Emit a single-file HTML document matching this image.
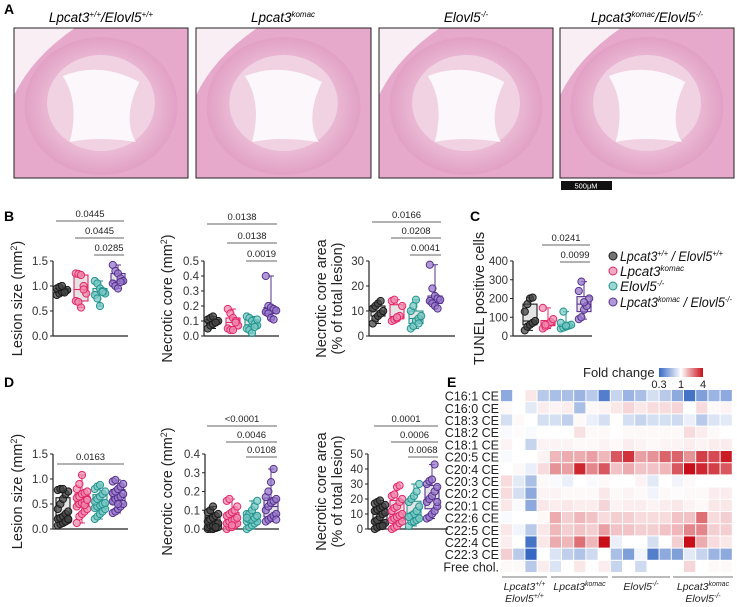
<!DOCTYPE html>
<html><head><meta charset="utf-8"><style>
html,body{margin:0;padding:0;background:#fff;}
svg{display:block;font-family:"Liberation Sans",Arial,sans-serif;}
</style></head><body>
<svg id="fig" width="737" height="607" viewBox="0 0 737 607" xmlns="http://www.w3.org/2000/svg">
<defs>
<radialGradient id="tis" cx="50%" cy="50%" r="60%"><stop offset="0" stop-color="#f6e6ee"/><stop offset="0.6" stop-color="#e9b6d2"/><stop offset="1" stop-color="#dc90bb"/></radialGradient>
</defs>
<g>
<text x="4" y="14" font-size="14" font-weight="bold">A</text>
<text x="101" y="22" font-size="13.5" font-style="italic" text-anchor="middle">Lpcat3<tspan font-size="8" dy="-5">+/+</tspan><tspan dy="5">/Elovl5</tspan><tspan font-size="8" dy="-5">+/+</tspan></text>
<text x="283" y="22" font-size="13.5" font-style="italic" text-anchor="middle">Lpcat3<tspan font-size="8" dy="-5">komac</tspan></text>
<text x="466" y="22" font-size="13.5" font-style="italic" text-anchor="middle">Elovl5<tspan font-size="8" dy="-5">-/-</tspan></text>
<text x="647" y="22" font-size="13.5" font-style="italic" text-anchor="middle">Lpcat3<tspan font-size="8" dy="-5">komac</tspan><tspan dy="5">/Elovl5</tspan><tspan font-size="8" dy="-5">-/-</tspan></text>
<g id="imgs"></g>
<rect x="561" y="181" width="51" height="9" fill="#111"/>
<text x="586" y="188.5" font-size="7.5" fill="#fff" text-anchor="middle">500μM</text>
</g>
<text x="4" y="221" font-size="14" font-weight="bold">B</text>
<text x="470" y="221" font-size="14" font-weight="bold">C</text>
<text x="4" y="387" font-size="14" font-weight="bold">D</text>
<text x="447" y="387" font-size="14" font-weight="bold">E</text>
<g id="plots"></g>
<g id="legend"></g>
<g id="heat"></g>
</svg>
<script>
// ---------- data ----------
const groupNames = ["WT", "Lpcat3komac", "Elovl5-/-", "DKO"];
const b1Black=[0.82,0.85,0.88,0.9,0.92,0.95,0.98,1.0,0.87];
const b1Pink=[1.25,1.24,1.22,1.0,0.85,0.7,0.68,0.57,0.93];
const b1Teal=[1.1,1.05,0.95,0.9,0.85,0.82,0.75,0.6,0.88];
const b1Purple=[1.42,1.3,1.25,1.15,1.1,1.05,1.0,0.95,1.08];
const b2Black=[0.05,0.07,0.08,0.09,0.1,0.11,0.12,0.13,0.09];
const b2Pink=[0.18,0.15,0.12,0.1,0.07,0.05,0.04,0.04,0.09];
const b2Teal=[0.13,0.12,0.1,0.08,0.07,0.05,0.04,0.02,0.06,0.11];
const b2Purple=[0.4,0.2,0.19,0.18,0.17,0.16,0.15,0.12,0.11];
const b3Black=[5,7,8,9,10,11,12,13,14];
const b3Pink=[6,6.5,7,8,12,14,14.5,7.5];
const b3Teal=[3,4,6,7,8,10,12,14.5,5];
const b3Purple=[28.5,19,16,15,14.5,14,13,12,11];
const cBlack=[30,50,60,70,80,130,170,200,205];
const cPink=[40,50,60,75,90,150,60];
const cTeal=[40,45,50,55,60,70,130,55];
const cPurple=[90,100,140,160,200,240,290,180];
const d1Black=[0.07,0.1,0.12,0.15,0.18,0.2,0.22,0.25,0.3,0.35,0.4,0.5,0.6,0.7,0.75,0.78,0.8,0.8,0.15,0.2];
const d1Pink=[0.12,0.25,0.3,0.35,0.4,0.45,0.5,0.52,0.55,0.6,0.62,0.65,0.7,0.72,0.75,0.8,0.9,1.08,0.48,0.58];
const d1Teal=[0.2,0.25,0.3,0.35,0.4,0.42,0.45,0.48,0.5,0.52,0.55,0.6,0.65,0.7,0.75,0.8,0.85,0.88];
const d1Purple=[0.32,0.35,0.4,0.45,0.5,0.55,0.6,0.62,0.65,0.7,0.72,0.75,0.8,0.85,0.9,0.95,0.98,0.5];
const d2Black=[0,0,0,0.005,0.01,0.01,0.02,0.02,0.03,0.03,0.04,0.05,0.06,0.07,0.08,0.09,0.1,0.12,0.01];
const d2Pink=[0,0.01,0.01,0.02,0.03,0.03,0.04,0.05,0.05,0.06,0.07,0.08,0.09,0.1,0.12,0.15,0.16,0.02];
const d2Teal=[0,0.01,0.02,0.03,0.04,0.04,0.05,0.05,0.06,0.07,0.08,0.08,0.1,0.12,0.15,0.06];
const d2Purple=[0.04,0.05,0.06,0.07,0.08,0.1,0.12,0.14,0.15,0.16,0.17,0.2,0.25,0.32,0.05];
const d3Black=[0,1,2,3,4,5,6,8,10,11,12,13,14,15,16,17,18,19,2];
const d3Pink=[0,1,2,4,5,6,7,8,9,10,12,14,15,18,20,22,23,28,29];
const d3Teal=[2,5,5,6,7,8,9,10,12,15,18,20,22,25,30,8];
const d3Purple=[7,8,10,12,15,18,20,22,25,28,30,32,33,43,18];
const b1Ticks=["0.0","0.5","1.0","1.5"], b2Ticks=["0.0","0.1","0.2","0.3","0.4","0.5"], b3Ticks=["0","10","20","30"];
const cTicks=["0","100","200","300","400"], d1Ticks=["0.0","0.5","1.0","1.5"], d2Ticks=["0.0","0.1","0.2","0.3","0.4"], d3Ticks=["0","10","20","30","40","50"];
const b1Sig=["0.0445","0.0445","0.0285"], b2Sig=["0.0138","0.0138","0.0019"], b3Sig=["0.0166","0.0208","0.0041"];
const cSig=["0.0241","0.0099"], d1Sig=["0.0163"], d2Sig=["<0.0001","0.0046","0.0108"], d3Sig=["0.0001","0.0006","0.0068"];
const heatRows=["C16:1 CE","C16:0 CE","C18:3 CE","C18:2 CE","C18:1 CE","C20:5 CE","C20:4 CE","C20:3 CE","C20:2 CE","C20:1 CE","C22:6 CE","C22:5 CE","C22:4 CE","C22:3 CE","Free chol."];
const hC161=[-0.8,0,0.2,-0.5,-0.6,-0.6,-0.7,-0.5,-1.2,-0.4,-0.7,-0.6,-0.3,-0.5,-0.8,-1.3,-0.9,-0.7,-0.8];
const hC160=[0.05,0,-0.2,0.15,0.1,0.15,-0.6,0.05,0.1,0.2,0.35,0.2,0.3,0.3,0.35,0,0.3,0.05,0.1];
const hC183=[-0.3,0.05,0,-0.3,-0.3,-0.45,0.05,-0.15,-0.3,0,-0.3,-0.4,-0.3,-0.3,-0.35,-0.15,-0.5,-0.25,-0.2];
const hC182=[-0.05,0.03,-0.05,0,0,0,0.25,0.05,0.05,0,0.05,0.05,0.05,0.05,0.05,0.3,0.15,0.05,0];
const hC181=[0.1,0,-0.4,0.1,0.1,0.1,0.05,0.05,0.1,0.05,0.15,0.1,0.05,0.1,0.1,0.15,0.1,0.15,0.15];
const hC205=[-0.05,0,0,0.1,0.6,0.7,0.7,0.8,0.6,1.4,1.7,0.8,0.9,1.3,1.3,0.9,1.6,1.5,1.9];
const hC204=[0,0.05,-0.15,0.3,0.9,0.8,1.8,1.0,1.4,0.5,0.7,0.5,0.5,0.6,1.4,2.0,1.8,1.6,1.4];
const hC203=[0.3,-0.2,-0.6,0.05,-0.05,-0.15,0,-0.05,0.05,0,0,0.1,-0.2,0,-0.1,0.05,0,0,0];
const hC202=[0.3,-0.3,-0.8,0.1,0.1,0.05,0.05,0.05,0.2,0.05,0.1,0.05,-0.1,0.05,0.03,0.05,0.05,0.15,0.15];
const hC201=[0.2,-0.05,-0.8,0.2,0.15,0.2,0.15,0.15,0.35,0.1,0.15,0.15,0.1,0.15,0.2,0.1,0.05,0.2,0.2];
const hC226=[-0.05,0,0,0.05,0.7,0.4,0.6,0.5,0.3,0.4,0.4,0.3,0.3,0.3,0.5,0.5,1.2,0.3,0.4];
const hC225=[0.2,-0.1,-0.5,0.2,0.6,0.4,0.5,0.4,0.8,0.5,0.5,0.4,0.4,0.5,0.6,1.0,1.0,0.4,0.4];
const hC224=[0.15,0,-1.3,0.2,0.7,0.6,1.2,0.6,2.0,-0.15,0,0,-0.3,0,0.4,2.0,0.7,0.3,0.2];
const hC223=[0.4,-0.5,-1.4,0,-0.25,-0.45,-0.55,-0.35,0,-0.6,-0.9,-0.1,-1.2,-0.8,-0.9,-0.2,-0.4,-0.7,-0.8];
const hFree=[0.05,0.05,-0.5,0.15,-0.25,0,0.2,0.02,0.15,-0.4,0,-0.35,0,0,0,0.35,0,0.05,0.05];

// ---------- helpers ----------
const NS="http://www.w3.org/2000/svg";
function mk(tag,attrs,parent){const e=document.createElementNS(NS,tag);for(const k in attrs)e.setAttribute(k,attrs[k]);parent.appendChild(e);return e;}
const strokes=["#1a1a1a","#e3286a","#23938f","#57308f"];
const fills=["rgba(70,70,70,0.75)","rgba(240,140,175,0.75)","rgba(120,200,195,0.75)","rgba(150,120,200,0.75)"];

// panel A images
const imgs=document.getElementById('imgs');
const frames=[[14,188],[196,371],[379,553],[560,734]];
frames.forEach((f,i)=>{
  const g=mk('g',{},imgs);
  
  
  const w=f[1]-f[0], x=f[0], y=28, h=150;
  mk('rect',{x:x,y:y,width:w,height:h,fill:'#e6a9cc'},g);
  mk('path',{d:`M${x},${y} L${x+w*0.35},${y} Q${x+w*0.1},${y+h*0.2} ${x},${y+h*0.45}Z`,fill:'#f8eef3'},g);
  mk('ellipse',{cx:x+w*0.5,cy:y+h*0.52,rx:w*0.44,ry:h*0.46,fill:'url(#tis)'},g);
  mk('ellipse',{cx:x+w*0.5,cy:y+h*0.5,rx:w*0.31,ry:h*0.32,fill:'#f0d2e3'},g);
  mk('path',{d:`M${x+w*0.28},${y+h*0.32} Q${x+w*0.5},${y+h*0.22} ${x+w*0.72},${y+h*0.36} Q${x+w*0.62},${y+h*0.6} ${x+w*0.7},${y+h*0.76} Q${x+w*0.48},${y+h*0.72} ${x+w*0.32},${y+h*0.76} Q${x+w*0.38},${y+h*0.5} ${x+w*0.28},${y+h*0.32}Z`,fill:'#fcf7fa'},g);
  mk('rect',{x:x,y:y,width:w,height:h,fill:'none',stroke:'#222','stroke-width':1},g);
});

// ---------- box plots ----------
const plotsG=document.getElementById('plots');
function quant(s,p){const pos=(s.length-1)*p,lo=Math.floor(pos),hi=Math.ceil(pos);return s[lo]+(s[hi]-s[lo])*(pos-lo);}
function boxPlot(name,ax,groups,ticks,sigs,sigSpec,label){
  const g=mk('g',{},plotsG);
  
  
  const yMax=parseFloat(ticks[ticks.length-1]);
  const ys=v=>ax.y0-(v/yMax)*(ax.y0-ax.y1);
  const ya=mk('line',{x1:ax.x0,y1:ax.y1,x2:ax.x0,y2:ax.y0,stroke:'#222','stroke-width':1.2},g);
  
  
  const xa=mk('line',{x1:ax.x0,y1:ax.y0,x2:ax.x1,y2:ax.y0,stroke:'#222','stroke-width':1.2},g);
  
  
  ticks.forEach(t=>{const y=ys(parseFloat(t));
    mk('line',{x1:ax.x0-3,y1:y,x2:ax.x0,y2:y,stroke:'#222','stroke-width':1},g);
    const tl=mk('text',{x:ax.x0-5,y:y+4,'font-size':11.5,'text-anchor':'end',fill:'#333'},g);
    tl.textContent=t;
    
    
  });
  const lab=mk('text',{transform:`translate(${label.x},${(ax.y0+ax.y1)/2+label.dy}) rotate(-90)`,'font-size':14.5,'text-anchor':'middle',fill:'#222'},g);
  label.lines.forEach((ln,i)=>{const ts=mk('tspan',{x:0,dy:i?16:0},lab);ts.innerHTML=ln;});
  
  
  groups.forEach((d,i)=>{
    const cx=ax.gx[i];
    const s=[...d].sort((a,b)=>a-b);
    const q1=quant(s,0.25),q3=quant(s,0.75),med=quant(s,0.5);
    const bg=mk('g',{},g);
    
    
    const hw=7;
    mk('line',{x1:cx,y1:ys(s[0]),x2:cx,y2:ys(s[s.length-1]),stroke:strokes[i],'stroke-width':1},bg);
    mk('line',{x1:cx-3,y1:ys(s[0]),x2:cx+3,y2:ys(s[0]),stroke:strokes[i]},bg);
    mk('line',{x1:cx-3,y1:ys(s[s.length-1]),x2:cx+3,y2:ys(s[s.length-1]),stroke:strokes[i]},bg);
    mk('rect',{x:cx-hw,y:ys(q3),width:2*hw,height:Math.max(0.5,ys(q1)-ys(q3)),fill:'#e4e4e4',stroke:strokes[i],'stroke-width':1.1},bg);
    mk('line',{x1:cx-hw,y1:ys(med),x2:cx+hw,y2:ys(med),stroke:strokes[i],'stroke-width':1.1},bg);
    d.forEach((v,k)=>{
      const off=((k%5)-2)*2.6;
      const p=mk('circle',{cx:cx+off,cy:ys(v),r:3.6,fill:fills[i],stroke:strokes[i],'stroke-width':1},bg);
      
      
    });
  });
  sigs.forEach((t,i)=>{
    const sp=sigSpec[i];
    const xa1=ax.gx[sp[0]]-6, xa2=ax.gx[sp[1]]+6;
    const sl=mk('line',{x1:xa1,y1:sp[2],x2:xa2,y2:sp[2],stroke:'#666','stroke-width':1.1},g);
    
    
    const st=mk('text',{x:(xa1+xa2)/2,y:sp[2]-4,'font-size':9.5,'text-anchor':'middle',fill:'#222'},g);
    st.textContent=t;
    
    
  });
}
const bx1={x0:53,x1:128,y0:336,y1:261,gx:[62,81,100,118]};
const bx2={x0:204,x1:279,y0:336,y1:261,gx:[213,233,252,271]};
const bx3={x0:369,x1:455,y0:336,y1:261,gx:[378,397,416,435]};
const cx_={x0:513,x1:592,y0:336,y1:261,gx:[530,548,566,584]};
const dx1={x0:53,x1:128,y0:529,y1:454,gx:[63,82,100,118]};
const dx2={x0:205,x1:279,y0:529,y1:454,gx:[213,232,252,271]};
const dx3={x0:368,x1:448,y0:529,y1:454,gx:[380,397,414,432]};
const sup='<tspan font-size="9" dy="-5">2</tspan><tspan dy="5">)</tspan>';
boxPlot('lesion-size-plot-b',bx1,[b1Black,b1Pink,b1Teal,b1Purple],b1Ticks,b1Sig,[[0,3,221],[1,3,238],[2,3,255]],{x:22,dy:0,lines:['Lesion size (mm'+sup]});
boxPlot('necrotic-core-plot-b',bx2,[b2Black,b2Pink,b2Teal,b2Purple],b2Ticks,b2Sig,[[0,3,224],[1,3,243],[2,3,261]],{x:172,dy:0,lines:['Necrotic core (mm'+sup]});
boxPlot('necrotic-area-plot-b',bx3,[b3Black,b3Pink,b3Teal,b3Purple],b3Ticks,b3Sig,[[0,3,222],[1,3,238],[2,3,255]],{x:326,dy:0,lines:['Necrotic core area','(% of total lesion)']});
boxPlot('tunel-plot-c',cx_,[cBlack,cPink,cTeal,cPurple],cTicks,cSig,[[1,3,245],[2,3,262]],{x:484,dy:0,lines:['TUNEL positive cells']});
boxPlot('lesion-size-plot-d',dx1,[d1Black,d1Pink,d1Teal,d1Purple],d1Ticks,d1Sig,[[0,3,464]],{x:22,dy:0,lines:['Lesion size (mm'+sup]});
boxPlot('necrotic-core-plot-d',dx2,[d2Black,d2Pink,d2Teal,d2Purple],d2Ticks,d2Sig,[[0,3,426],[1,3,442],[2,3,457]],{x:172,dy:0,lines:['Necrotic core (mm'+sup]});
boxPlot('necrotic-area-plot-d',dx3,[d3Black,d3Pink,d3Teal,d3Purple],d3Ticks,d3Sig,[[0,3,426],[1,3,442],[2,3,457]],{x:326,dy:0,lines:['Necrotic core area','(% of total lesion)']});

// ---------- legend ----------
const leg=document.getElementById('legend');
const legText=['Lpcat3<tspan font-size="8" dy="-5">+/+</tspan><tspan dy="5"> / Elovl5</tspan><tspan font-size="8" dy="-5">+/+</tspan>','Lpcat3<tspan font-size="8" dy="-5">komac</tspan>','Elovl5<tspan font-size="8" dy="-5">-/-</tspan>','Lpcat3<tspan font-size="8" dy="-5">komac</tspan><tspan dy="5"> / Elovl5</tspan><tspan font-size="8" dy="-5">-/-</tspan>'];
const legY=[256,271,286,302];
const legLen=[103,0,0,112];
legText.forEach((t,i)=>{
  const g=mk('g',{},leg);
  
  
  mk('circle',{cx:613,cy:legY[i],r:4,fill:fills[i],stroke:strokes[i],'stroke-width':1},g);
  const tx=mk('text',{x:620,y:legY[i]+5,'font-size':13.5,'font-style':'italic',fill:'#111'},g);
  if(legLen[i]){tx.setAttribute('textLength',legLen[i]);tx.setAttribute('lengthAdjust','spacingAndGlyphs');}
  tx.innerHTML=t;
});

// ---------- heatmap ----------
const heat=document.getElementById('heat');
const heatData=[hC161,hC160,hC183,hC182,hC181,hC205,hC204,hC203,hC202,hC201,hC226,hC225,hC224,hC223,hFree];
function col(v){
  if(v<0){const t=Math.min(1,-v/1.4);return `rgb(${Math.round(255-t*(255-55))},${Math.round(255-t*(255-105))},${Math.round(255-t*(255-195))})`;}
  const t=Math.min(1,v/2);return `rgb(${Math.round(255-t*(255-200))},${Math.round(255-t*(255-15))},${Math.round(255-t*(255-25))})`;
}
const hx0=501,hy0=390,cw=12.2,ch=12.2;
heatRows.forEach((r,ri)=>{
  const rl=mk('text',{x:hx0-2,y:hy0+ri*ch+ch/2+4.5,'font-size':12.5,'text-anchor':'end',fill:'#222'},heat);
  rl.textContent=r;
  
  
  heatData[ri].forEach((v,ci)=>{
    const c=mk('rect',{x:hx0+ci*cw,y:hy0+ri*ch,width:cw-1,height:ch-1,fill:col(v)},heat);
    
    
  });
});
const grpSpan=[[502,547],[551,608],[612,670],[673,733]];
const grpLab=[['Lpcat3<tspan font-size="7" dy="-4">+/+</tspan>','Elovl5<tspan font-size="7" dy="-4">+/+</tspan>'],['Lpcat3<tspan font-size="7" dy="-4">komac</tspan>'],['Elovl5<tspan font-size="7" dy="-4">-/-</tspan>'],['Lpcat3<tspan font-size="7" dy="-4">komac</tspan>','Elovl5<tspan font-size="7" dy="-4">-/-</tspan>']];
grpSpan.forEach((s,i)=>{
  const l=mk('line',{x1:s[0],y1:577,x2:s[1],y2:577,stroke:'#777','stroke-width':1},heat);
  
  
  grpLab[i].forEach((t,k)=>{
    const tx=mk('text',{x:(s[0]+s[1])/2,y:590+k*12,'font-size':10.5,'font-style':'italic','text-anchor':'middle',fill:'#222'},heat);
    tx.innerHTML=t;
    
    
  });
});
const grad=mk('linearGradient',{id:'cb',x1:0,x2:1,y1:0,y2:0},document.querySelector('defs'));
mk('stop',{offset:0,'stop-color':'rgb(55,105,195)'},grad);
mk('stop',{offset:0.5,'stop-color':'#ffffff'},grad);
mk('stop',{offset:1,'stop-color':'rgb(200,15,25)'},grad);
const cb=mk('rect',{x:659,y:368,width:44,height:9,fill:'url(#cb)'},heat);


const fc=mk('text',{x:583,y:377,'font-size':13,fill:'#222'},heat);
fc.textContent='Fold change';


[['0.3',659],['1',681],['4',703]].forEach(t=>{
  const tt=mk('text',{x:t[1],y:388,'font-size':11,'text-anchor':'middle',fill:'#222'},heat);
  tt.textContent=t[0];
  
  
});
</script>
</body></html>
